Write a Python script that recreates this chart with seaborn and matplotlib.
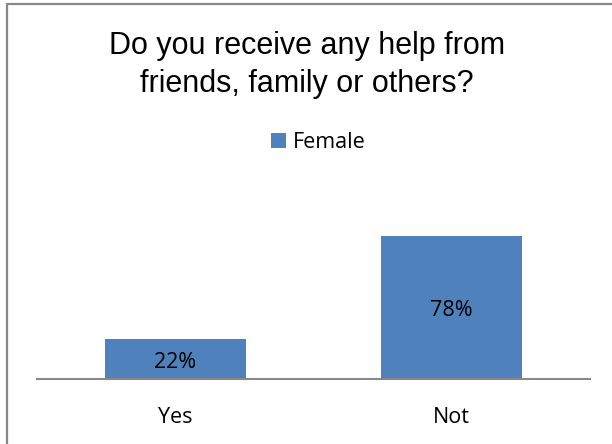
import numpy as np
import pandas as pd
import matplotlib
matplotlib.use("Agg")
import matplotlib.pyplot as plt
import seaborn as sns
from matplotlib.lines import Line2D

answers = ["Yes", "Not"]
female = [22, 78]
series = "Female"
title = "Do you receive any help from\nfriends, family or others?"

df = pd.DataFrame({"answer": answers, "pct": female, "series": [series] * len(answers)})

sns.set_style("white")
plt.rcParams["font.family"] = ["Open Sans", "DejaVu Sans"]

W, H = 612, 444
fig = plt.figure(figsize=(W / 100, H / 100), dpi=100)
ax = fig.add_axes([37 / W, 65 / H, 553 / W, 199 / H])

sns.barplot(data=df, x="answer", y="pct", hue="series", palette=["#4F81BD"],
            saturation=1, width=0.51, ax=ax, legend=True, edgecolor="none")
ax.set_xlim(-0.5, 1.5)
ax.set_ylim(0, 199 / 1.833)

for p, v in zip(ax.patches, female):
    ax.annotate(f"{v}%", (p.get_x() + p.get_width() / 2, v / 2), xytext=(0, -2.5),
                textcoords="offset points", ha="center", va="center",
                fontsize=15.5, color="black")

for s in ["top", "right", "left"]:
    ax.spines[s].set_visible(False)
ax.spines["bottom"].set_color("#888888")
ax.spines["bottom"].set_linewidth(1.5)
ax.set_yticks([])
ax.set_xlabel("")
ax.set_ylabel("")
ax.tick_params(axis="x", length=0, labelsize=15.5, labelcolor="black", pad=20)

ax.legend(loc="center", bbox_to_anchor=(318 / W, 1 - 143 / H), bbox_transform=fig.transFigure,
          frameon=False, fontsize=15.5, handlelength=0.7, handleheight=0.7, handletextpad=0.3,
          labelcolor="black")

fig.text(307 / W, 1 - 65 / H, title, ha="center", va="center", fontsize=22, color="black",
         family=["Liberation Sans", "DejaVu Sans"], linespacing=1.36)

# chart frame (only left and top edges visible in the crop)
fig.add_artist(Line2D([7 / W, 7 / W], [0, 1 - 4 / H], transform=fig.transFigure,
                      color="#888888", linewidth=1.6))
fig.add_artist(Line2D([7 / W, 1], [1 - 4 / H, 1 - 4 / H], transform=fig.transFigure,
                      color="#888888", linewidth=1.6))

fig.savefig("out.png", dpi=100)
